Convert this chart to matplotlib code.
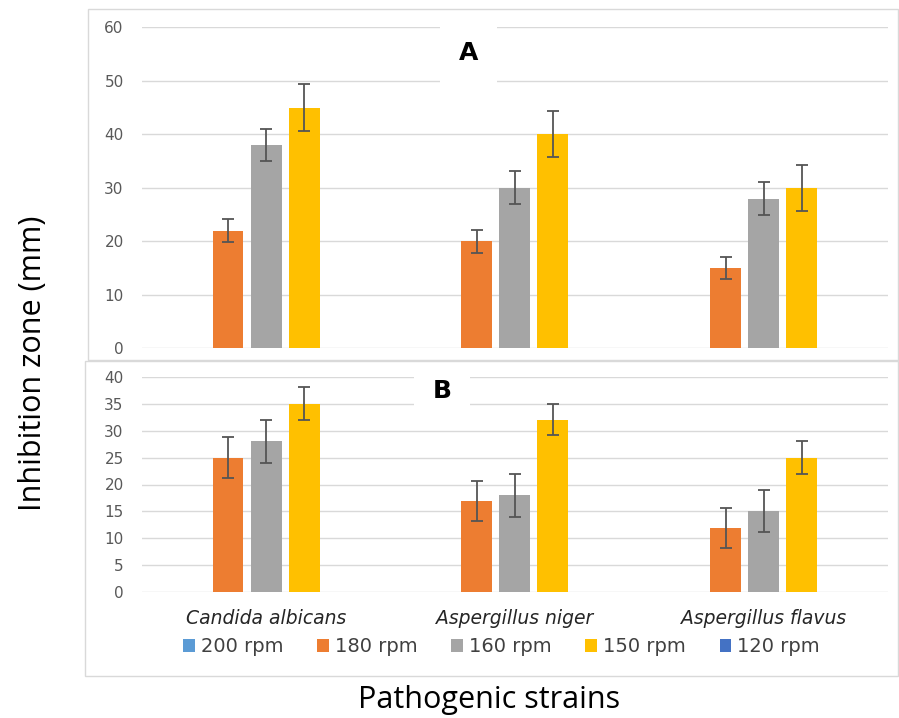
import matplotlib
matplotlib.use("Agg")
import matplotlib.pyplot as plt
from matplotlib.patches import Rectangle, Patch
import numpy as np

categories = ["Candida albicans", "Aspergillus niger", "Aspergillus flavus"]
series = ["200 rpm", "180 rpm", "160 rpm", "150 rpm", "120 rpm"]
colors = ["#5B9BD5", "#ED7D31", "#A5A5A5", "#FFC000", "#4472C4"]

# Panel A values / errors (rows: series, cols: categories)
a_200 = [0, 0, 0]
a_180 = [22, 20, 15]
a_160 = [38, 30, 28]
a_150 = [45, 40, 30]
a_120 = [0, 0, 0]
a_err_180 = [2.1, 2.1, 2.0]
a_err_160 = [3.0, 3.1, 3.0]
a_err_150 = [4.4, 4.3, 4.3]

# Panel B values / errors
b_200 = [0, 0, 0]
b_180 = [25, 17, 12]
b_160 = [28, 18, 15]
b_150 = [35, 32, 25]
b_120 = [0, 0, 0]
b_err_180 = [3.8, 3.7, 3.7]
b_err_160 = [4.0, 4.0, 3.9]
b_err_150 = [3.0, 2.9, 3.0]

a_ticks = [0, 10, 20, 30, 40, 50, 60]
b_ticks = [0, 5, 10, 15, 20, 25, 30, 35, 40]

A_vals = [a_200, a_180, a_160, a_150, a_120]
A_errs = [None, a_err_180, a_err_160, a_err_150, None]
B_vals = [b_200, b_180, b_160, b_150, b_120]
B_errs = [None, b_err_180, b_err_160, b_err_150, None]

W, H = 899, 718
fig = plt.figure(figsize=(W / 100, H / 100), dpi=100)

def fx(px):
    return px / W

def fy(py):
    return 1 - py / H

# outer chart borders
fig.patches.append(Rectangle((fx(88), fy(360)), fx(898) - fx(88), fy(9) - fy(360),
                             transform=fig.transFigure, fill=False,
                             edgecolor="#D9D9D9", lw=1.0, zorder=0))
fig.patches.append(Rectangle((fx(85), fy(676)), fx(898) - fx(85), fy(361) - fy(676),
                             transform=fig.transFigure, fill=False,
                             edgecolor="#D9D9D9", lw=1.0, zorder=0))

left, right = fx(141.7), fx(888)
axA = fig.add_axes([left, fy(348.3), right - left, fy(27.3) - fy(348.3)])
axB = fig.add_axes([left, fy(592.3), right - left, fy(376.7) - fy(592.3)])

x = np.arange(len(categories))
step = 0.153
width = 0.124
offsets = (np.arange(len(series)) - 2) * step

def draw(ax, vals, errs, ticks, ymax, label, lx, ly, show_x):
    ax.set_facecolor("none")
    ax.set_axisbelow(True)
    for i, (v, e) in enumerate(zip(vals, errs)):
        ax.bar(x + offsets[i], v, width, color=colors[i], zorder=2)
        if e is not None:
            ax.errorbar(x + offsets[i], v, yerr=e, fmt="none", ecolor="#555555",
                        elinewidth=1.3, capsize=4.5, capthick=1.3, zorder=3)
    ax.set_xlim(-0.5, len(categories) - 0.5)
    ax.set_ylim(0, ymax)
    ax.set_yticks(ticks)
    ax.grid(axis="y", color="#D9D9D9", lw=1.0)
    for s in ax.spines.values():
        s.set_visible(False)
    ax.tick_params(axis="y", length=0, pad=13, labelsize=11, labelcolor="#595959")
    ax.set_xticks(x)
    if show_x:
        ax.set_xticklabels(categories, fontstyle="italic", fontsize=13.5, color="#262626")
        ax.tick_params(axis="x", length=0, pad=12)
    else:
        ax.set_xticklabels([])
        ax.tick_params(axis="x", length=0)
    ax.text(lx, ly, label, ha="center", va="center", fontsize=18, fontweight="bold",
            color="black", zorder=4, clip_on=False,
            bbox=dict(facecolor="white", edgecolor="none", boxstyle="square,pad=0.75"))

draw(axA, A_vals, A_errs, a_ticks, 60, "A", 0.812, 55.2, False)
draw(axB, B_vals, B_errs, b_ticks, 40, "B", 0.7075, 37.3, True)

handles = [Patch(facecolor=c, edgecolor="none") for c in colors]
fig.legend(handles, series, loc="center", bbox_to_anchor=(fx(501.5), fy(647)),
           ncol=5, frameon=False, fontsize=14, handlelength=0.6, handleheight=0.6,
           handletextpad=0.3, columnspacing=1.75, labelcolor="#404040")

fig.text(fx(33), fy(363), "Inhibition zone (mm)", rotation=90, ha="center", va="center",
         fontsize=22, family="Open Sans", color="black")
fig.text(fx(489), fy(700), "Pathogenic strains", ha="center", va="center",
         fontsize=22, family="Open Sans", color="black")

fig.savefig("out.png", dpi=100)
